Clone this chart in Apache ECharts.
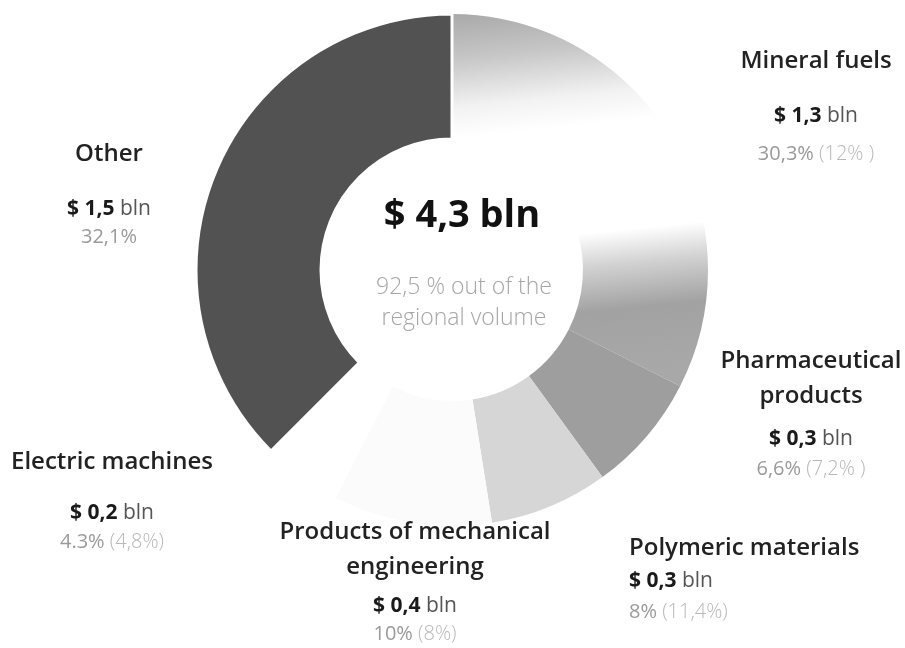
<!DOCTYPE html>
<html>
<head>
<meta charset="utf-8">
<script src="https://cdn.jsdelivr.net/npm/echarts@6/dist/echarts.min.js"></script>
<style>
html,body{margin:0;padding:0;background:#fff;}
#chart{width:905px;height:648px;}
</style>
</head>
<body>
<div id="chart"></div>
<script>
// ---- data ----
var categories = ['Mineral fuels', 'Pharmaceutical products', 'Polymeric materials', 'Products of mechanical engineering', 'Electric machines', 'Other'];
var titleLines = [['Mineral fuels'], ['Pharmaceutical', 'products'], ['Polymeric materials'], ['Products of mechanical', 'engineering'], ['Electric machines'], ['Other']];
var valuesBln = [1.3, 0.3, 0.3, 0.4, 0.2, 1.5];
var valueText = ['$ 1,3', '$ 0,3', '$ 0,3', '$ 0,4', '$ 0,2', '$ 1,5'];
var shareText = ['30,3%', '6,6%', '8%', '10%', '4.3%', '32,1%'];
var prevShareText = [' (12% )', ' (7,2% )', ' (11,4%)', ' (8%)', ' (4,8%)', ''];
var totalText = '$ 4,3 bln';
var subText = ['92,5 % out of the', 'regional volume'];

// ---- styling / layout ----
var FONT = '"Open Sans", "Liberation Sans", sans-serif';
var sliceColors = [
  {type: 'linear', x: 0, y: 0, x2: 0.15, y2: 1, colorStops: [
    {offset: 0, color: '#a9a9a9'},
    {offset: 0.12, color: '#c6c6c6'},
    {offset: 0.25, color: '#f2f2f2'},
    {offset: 0.33, color: '#ffffff'},
    {offset: 0.62, color: '#ffffff'},
    {offset: 0.71, color: '#d2d2d2'},
    {offset: 0.83, color: '#a2a2a2'},
    {offset: 1, color: '#a8a8a8'}
  ]},
  '#9e9e9e', '#d6d6d6', '#fbfbfb', '#ffffff', '#525252'
];
var sliceBorder = [0, 0, 0, 0, 0, 3];
// label anchor [x, yTop, align], gap between title & value, gap between value & share
var labelPos = [[816, 44, 'center'], [811, 344, 'center'], [629, 531, 'left'], [415, 515, 'center'], [112, 445, 'center'], [109, 137, 'center']];
var gapA = [22, 10, 0, 6, 18, 22];
var gapB = [10, 2, 3, 0, 1, 0];

function makeLabel(i) {
  var parts = [];
  titleLines[i].forEach(function (t) { parts.push('{t|' + t + '}'); });
  if (gapA[i] > 0) parts.push('{ga|\u00a0}');
  parts.push('{v|' + valueText[i] + '}{u| bln}');
  if (gapB[i] > 0) parts.push('{gb|\u00a0}');
  parts.push('{p|' + shareText[i] + '}' + (prevShareText[i] ? '{q|' + prevShareText[i] + '}' : ''));
  return {
    formatter: parts.join('\n'),
    align: labelPos[i][2],
    rich: {
      t: {fontFamily: FONT, fontSize: 24, fontWeight: 600, color: '#222', lineHeight: 35, align: labelPos[i][2]},
      ga: {fontSize: 1, lineHeight: gapA[i]},
      gb: {fontSize: 1, lineHeight: gapB[i]},
      v: {fontFamily: FONT, fontSize: 21, fontWeight: 700, color: '#1a1a1a', lineHeight: 30},
      u: {fontFamily: FONT, fontSize: 21, fontWeight: 400, color: '#555', lineHeight: 30},
      p: {fontFamily: FONT, fontSize: 20, fontWeight: 400, color: '#9a9a9a', lineHeight: 26},
      q: {fontFamily: FONT, fontSize: 20, fontWeight: 300, color: '#b8b8b8', lineHeight: 26}
    }
  };
}

var seriesData = categories.map(function (name, i) {
  return {
    name: name,
    value: valuesBln[i],
    itemStyle: {color: sliceColors[i], borderColor: '#ffffff', borderWidth: sliceBorder[i]},
    label: makeLabel(i)
  };
});

var chart = echarts.init(document.getElementById('chart'), null, {renderer: 'canvas'});
chart.setOption({
  backgroundColor: '#ffffff',
  animation: false,
  series: [{
    type: 'pie',
    center: [452, 270],
    radius: [131, 256],
    startAngle: 90,
    clockwise: true,
    avoidLabelOverlap: false,
    silent: true,
    label: {show: true, position: 'outside'},
    labelLine: {show: false},
    labelLayout: function (params) {
      var p = labelPos[params.dataIndex];
      return {x: p[0], y: p[1], align: p[2], verticalAlign: 'top', hideOverlap: false};
    },
    data: seriesData
  }],
  graphic: [
    {type: 'text', style: {text: totalText, x: 462, y: 216, textAlign: 'center', textVerticalAlign: 'middle', font: '700 38px ' + FONT, fill: '#111'}},
    {type: 'text', style: {text: subText[0], x: 464, y: 287, textAlign: 'center', textVerticalAlign: 'middle', font: '300 23px ' + FONT, fill: '#a6a6a6'}},
    {type: 'text', style: {text: subText[1], x: 464, y: 318, textAlign: 'center', textVerticalAlign: 'middle', font: '300 23px ' + FONT, fill: '#a6a6a6'}}
  ]
});
</script>
</body>
</html>
